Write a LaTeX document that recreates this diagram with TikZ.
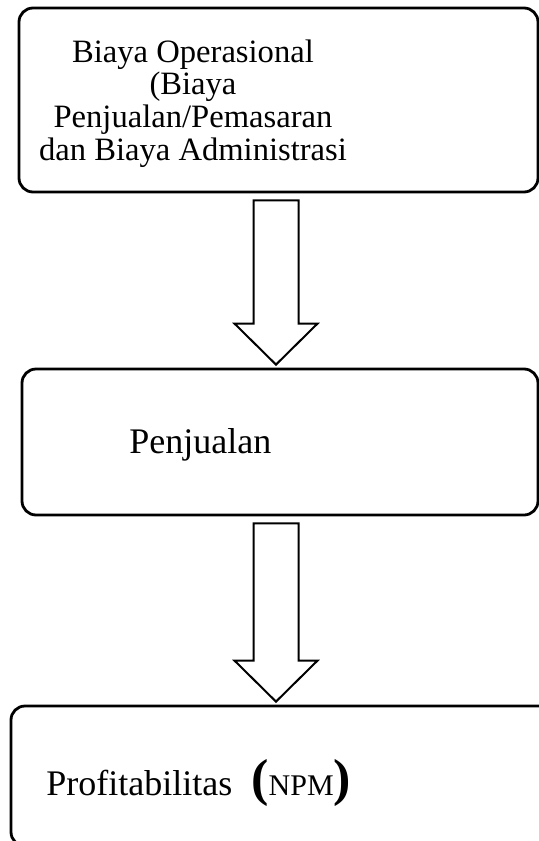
\documentclass[tikz,border=0pt]{standalone}
\usepackage{fontspec}
\setmainfont{Liberation Serif}
\usetikzlibrary{calc}

\begin{document}
\begin{tikzpicture}[x=.5pt,y=-.5pt,
  box/.style={draw,line width=1.4pt,rounded corners=7pt,inner sep=0pt},
  blockarr/.style={draw,line width=1pt,line join=miter}]
  \path[use as bounding box] (0,0) rectangle (539,841);
  \clip (0,0) rectangle (539,841);

  % Boxes
  \node[box,minimum width=259.5pt,minimum height=92pt] (ops) at (278.5,100) {};
  \node[box,minimum width=258pt,minimum height=73pt] (jual) at (280,442) {};
  \node[box,minimum width=344.5pt,minimum height=70pt] (npm) at (355.5,776) {};

  % Texts
  \node[align=center,inner sep=0pt,font=\fontsize{16.3}{16.3}\selectfont] (opstext) at (193,103.4)
    {Biaya Operasional\\(Biaya\\Penjualan/Pemasaran\\dan Biaya Administrasi};
  \node[anchor=base west,inner sep=0pt,font=\fontsize{18}{18}\selectfont] (jualtext) at (129,453) {Penjualan};
  \node[anchor=base west,inner sep=0pt,font=\fontsize{18}{18}\selectfont] (npmtext) at (46,795)
    {Profitabilitas\hspace{9.5pt}{\fontsize{26}{26}\selectfont\bfseries(}{\fontsize{15}{15}\selectfont NPM}{\fontsize{26}{26}\selectfont\bfseries)}};

  % Block arrows
  \coordinate (ax) at (276,0);
  \foreach \a/\b in {ops/jual,jual/npm}{
    \draw[blockarr] ($(ax |- \a.south)+(-22.5,7)$) -- ($(ax |- \b.north)+(-22.5,-44)$) -- ++(-19,0)
      -- ($(ax |- \b.north)+(0,-3)$) -- ($(ax |- \b.north)+(41.5,-44)$) -- ++(-19,0)
      -- ($(ax |- \a.south)+(22.5,7)$) -- cycle;
  }
\end{tikzpicture}
\end{document}
